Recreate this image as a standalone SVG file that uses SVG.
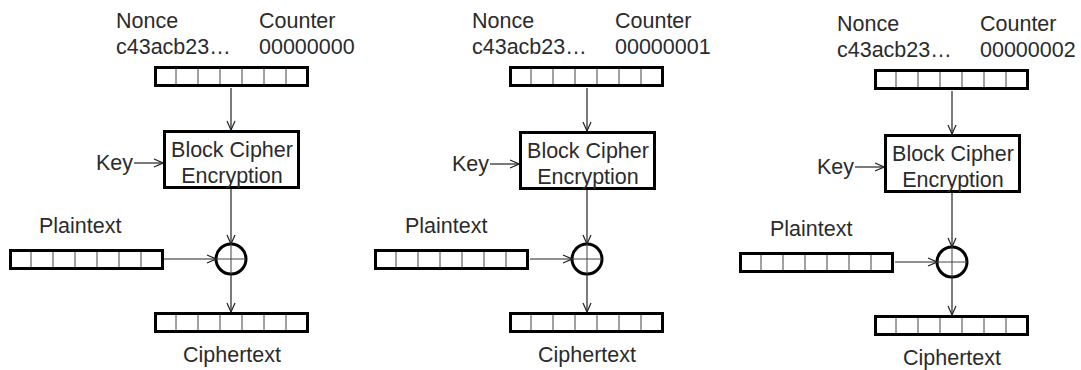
<svg xmlns="http://www.w3.org/2000/svg" width="1081" height="370" viewBox="0 0 1081 370">
<defs>
<style>
text{font-family:"Liberation Sans",Arial,sans-serif;font-size:21.5px;fill:#2b2b2b}
.mid{text-anchor:middle}
.box{fill:#fff;stroke:#000;stroke-width:3}
.cell{stroke:#444;stroke-width:1}
.wire{stroke:#222;stroke-width:1.2;fill:none}
.xor{fill:#fff;stroke:#000;stroke-width:3}
.cross{stroke:#444;stroke-width:1}
</style>
<marker id="arr" viewBox="0 0 10 10" refX="10" refY="5" markerWidth="10" markerHeight="10" markerUnits="userSpaceOnUse" orient="auto">
<polyline points="1,1 10,5 1,9" fill="none" stroke="#222" stroke-width="1.2"/>
</marker>
<g id="reg">
<rect class="box" x="1.5" y="1.5" width="152" height="18"/>
<line class="cell" x1="22" y1="3" x2="22" y2="18"/>
<line class="cell" x1="44" y1="3" x2="44" y2="18"/>
<line class="cell" x1="66" y1="3" x2="66" y2="18"/>
<line class="cell" x1="88" y1="3" x2="88" y2="18"/>
<line class="cell" x1="110" y1="3" x2="110" y2="18"/>
<line class="cell" x1="132" y1="3" x2="132" y2="18"/>
</g>
</defs>
<rect width="1081" height="370" fill="#fff"/>

<!-- Panel 1 -->
<g id="panel1">
<g id="p1-counter">
<text x="116" y="27.5">Nonce</text>
<text x="116" y="53.5">c43acb23…</text>
<text x="259" y="27.5">Counter</text>
<text x="259" y="53.5">00000000</text>
<use href="#reg" x="154" y="66"/>
</g>
<g id="p1-cipher">
<rect class="box" x="164.5" y="131.5" width="134" height="56"/>
<text class="mid" x="232" y="157">Block Cipher</text>
<text class="mid" x="232" y="183">Encryption</text>
</g>
<g id="p1-key"><text x="96" y="170">Key</text></g>
<g id="p1-xor">
<circle class="xor" cx="231" cy="259" r="15"/>
<line class="cross" x1="216" y1="259" x2="246" y2="259"/>
<line class="cross" x1="231" y1="244" x2="231" y2="274"/>
</g>
<g id="p1-plain">
<text x="39" y="233">Plaintext</text>
<use href="#reg" x="9" y="249"/>
</g>
<g id="p1-ctext">
<use href="#reg" x="154" y="312"/>
<text class="mid" x="232" y="362">Ciphertext</text>
</g>
</g>

<!-- Panel 2 -->
<g id="panel2" transform="translate(356,0)">
<g id="p2-counter">
<text x="116" y="27.5">Nonce</text>
<text x="116" y="53.5">c43acb23…</text>
<text x="259" y="27.5">Counter</text>
<text x="259" y="53.5">00000001</text>
<use href="#reg" x="153" y="66"/>
</g>
<g id="p2-cipher">
<rect class="box" x="164.5" y="132.5" width="134" height="56"/>
<text class="mid" x="232" y="158">Block Cipher</text>
<text class="mid" x="232" y="184">Encryption</text>
</g>
<g id="p2-key"><text x="96" y="171">Key</text></g>
<g id="p2-xor">
<circle class="xor" cx="231" cy="259" r="15"/>
<line class="cross" x1="216" y1="259" x2="246" y2="259"/>
<line class="cross" x1="231" y1="244" x2="231" y2="274"/>
</g>
<g id="p2-plain">
<text x="49" y="233">Plaintext</text>
<use href="#reg" x="18" y="249"/>
</g>
<g id="p2-ctext">
<use href="#reg" x="153" y="312"/>
<text class="mid" x="231" y="362">Ciphertext</text>
</g>
</g>

<!-- Panel 3 -->
<g id="panel3" transform="translate(721,3)">
<g id="p3-counter">
<text x="116" y="27.5">Nonce</text>
<text x="116" y="53.5">c43acb23…</text>
<text x="259" y="27.5">Counter</text>
<text x="259" y="53.5">00000002</text>
<use href="#reg" x="153" y="66"/>
</g>
<g id="p3-cipher">
<rect class="box" x="164.5" y="132.5" width="134" height="56"/>
<text class="mid" x="232" y="158">Block Cipher</text>
<text class="mid" x="232" y="184">Encryption</text>
</g>
<g id="p3-key"><text x="96" y="171">Key</text></g>
<g id="p3-xor">
<circle class="xor" cx="231" cy="259" r="15"/>
<line class="cross" x1="216" y1="259" x2="246" y2="259"/>
<line class="cross" x1="231" y1="244" x2="231" y2="274"/>
</g>
<g id="p3-plain">
<text x="49" y="233">Plaintext</text>
<use href="#reg" x="18" y="249"/>
</g>
<g id="p3-ctext">
<use href="#reg" x="153" y="312"/>
<text class="mid" x="231" y="362">Ciphertext</text>
</g>
</g>

<!-- Connectors -->
<g id="connectors">
<g>
<line class="wire" x1="231" y1="88" x2="231" y2="130" marker-end="url(#arr)"/>
<line class="wire" x1="134" y1="163" x2="163" y2="163" marker-end="url(#arr)"/>
<line class="wire" x1="231" y1="189" x2="231" y2="244" marker-end="url(#arr)"/>
<line class="wire" x1="164" y1="259" x2="216" y2="259" marker-end="url(#arr)"/>
<line class="wire" x1="231" y1="274" x2="231" y2="312" marker-end="url(#arr)"/>
</g>
<g transform="translate(356,0)">
<line class="wire" x1="231" y1="88" x2="231" y2="131" marker-end="url(#arr)"/>
<line class="wire" x1="134" y1="164" x2="163" y2="164" marker-end="url(#arr)"/>
<line class="wire" x1="231" y1="190" x2="231" y2="244" marker-end="url(#arr)"/>
<line class="wire" x1="174" y1="259" x2="216" y2="259" marker-end="url(#arr)"/>
<line class="wire" x1="231" y1="274" x2="231" y2="312" marker-end="url(#arr)"/>
</g>
<g transform="translate(721,3)">
<line class="wire" x1="231" y1="88" x2="231" y2="131" marker-end="url(#arr)"/>
<line class="wire" x1="134" y1="164" x2="163" y2="164" marker-end="url(#arr)"/>
<line class="wire" x1="231" y1="190" x2="231" y2="244" marker-end="url(#arr)"/>
<line class="wire" x1="174" y1="259" x2="216" y2="259" marker-end="url(#arr)"/>
<line class="wire" x1="231" y1="274" x2="231" y2="312" marker-end="url(#arr)"/>
</g>
</g>
</svg>
